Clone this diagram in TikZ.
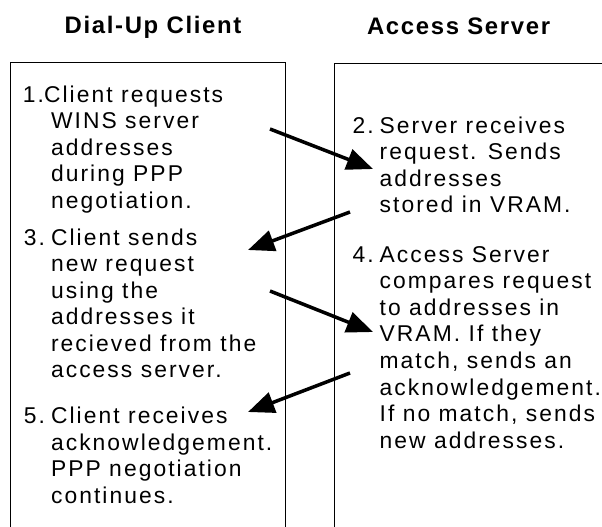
\documentclass[tikz,border=0pt]{standalone}
\usepackage{fontspec}
\usetikzlibrary{arrows.meta}
\newfontfamily\notefont{Liberation Sans}[LetterSpace=9]
\newfontfamily\headfont{Liberation Sans}[LetterSpace=7]
\newcommand{\firstline}{\rule{0pt}{0.35cm}}
\newcommand{\stepno}[1]{\firstline\llap{#1\hspace{0.12cm}}}
\tikzset{>={Triangle[length=15pt,width=12pt]}}
\tikzset{
	% column frames
	sidebox/.style={line width=0.8pt},
	% headings over the columns
	headnote/.style={anchor=base west,inner sep=0pt,font=\headfont\bfseries\fontsize{13.6}{16}\selectfont},
	% numbered steps, placed by the top of the first line
	stepnote/.style={anchor=north west,inner sep=0pt,align=left,font=\notefont\fontsize{13}{15.1}\selectfont},
	% messages between the columns
	msg/.style={->,line width=2pt},
}

\begin{document}
\begin{tikzpicture}[x=0.02cm,y=-0.02cm]
\useasboundingbox (0,0) rectangle (602,527);
% the two columns
\draw[sidebox] (10.7,527) |- (285.7,62.7) -- (285.7,527);
\draw[sidebox] (334.3,527) |- (602,63.3);
\node[headnote] (client) at (64.3,33.5) {Dial-Up Client};
\node[headnote] (server) at (366.7,34.3) {Access Server};
% the steps on the client side
\node[stepnote] (step1) at (50.7,84.2) {\firstline\hspace*{-0.14cm}\llap{1.}Client requests\\WINS server\\addresses\\during PPP\\negotiation.};
\node[stepnote] (step3) at (50.7,227.5) {\stepno{3.}Client sends\\new request\\using the\\addresses it\\recieved from the\\access server.};
\node[stepnote] (step5) at (50.7,405.8) {\stepno{5.}Client receives\\acknowledgement.\\PPP negotiation\\continues.};
% the steps on the server side
\node[stepnote] (step2) at (379.3,115.2) {\stepno{2.}Server receives\\request. Sends\\addresses\\stored in VRAM.};
\node[stepnote] (step4) at (379.3,244.5) {\stepno{4.}Access Server\\compares request\\to addresses in\\VRAM. If they\\match, sends an\\acknowledgement.\\If no match, sends\\new addresses.};
% where the arrows start and end
\coordinate (ask1) at (270,129);
\coordinate (got1) at (373,169);
\coordinate (ans1) at (350,212);
\coordinate (back1) at (248,250);
\coordinate (ask2) at (270,291);
\coordinate (got2) at (373,332);
\coordinate (ans2) at (350,373);
\coordinate (back2) at (248,412);
\foreach \from/\to in {ask1/got1,ans1/back1,ask2/got2,ans2/back2}
  \draw[msg] (\from) -- (\to);
\end{tikzpicture}
\end{document}
